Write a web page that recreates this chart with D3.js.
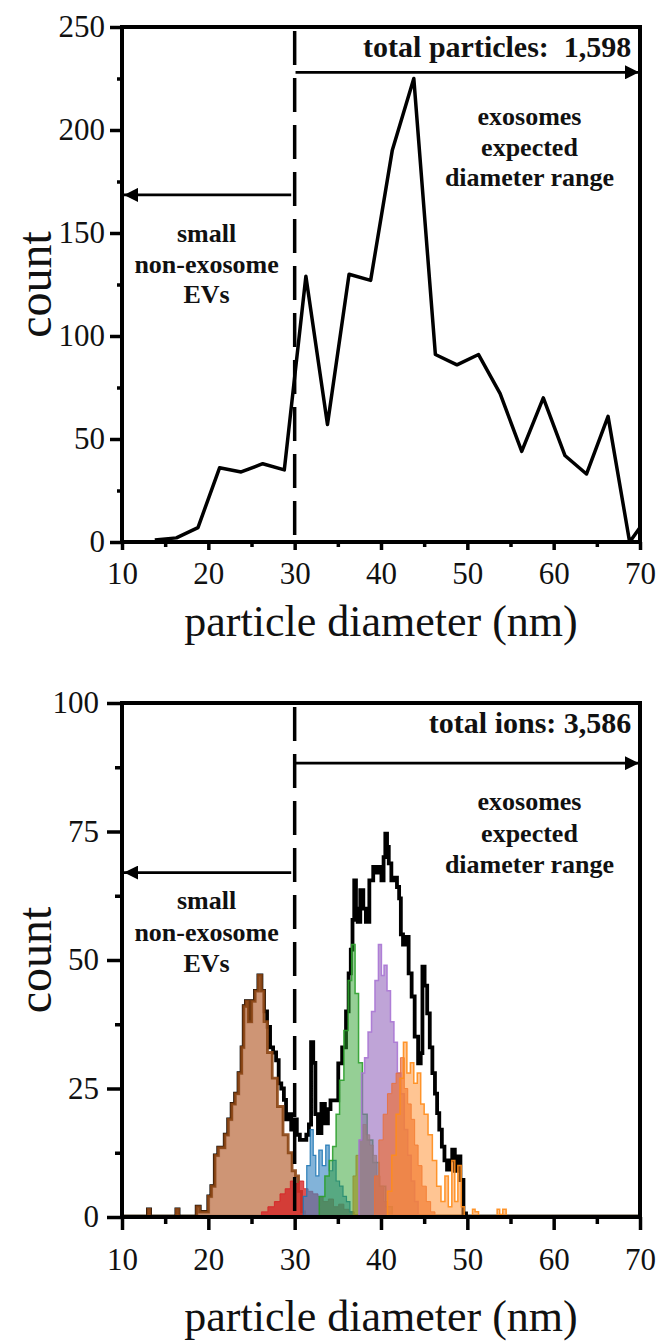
<!DOCTYPE html>
<html>
<head>
<meta charset="utf-8"/>
<title>particle diameter histograms</title>
<script src="https://d3js.org/d3.v7.min.js"></script>
<style>
body{margin:0;background:#fff;}
svg text{font-family:"Liberation Serif","Times New Roman",serif;fill:#111;}
.note{font-weight:bold;}
</style>
</head>
<body>
<div id="well"></div>
<script>
// ---- data ----
var xTicks = [10, 20, 30, 40, 50, 60, 70];
var xMinor = [15, 25, 35, 45, 55, 65];

// top panel: particle counts (nm, count)
var particleDiam = [13.8, 16.3, 18.8, 21.3, 23.8, 26.3, 28.8, 31.3, 33.8, 36.3, 38.8, 41.3, 43.8, 46.3, 48.8, 51.3, 53.8, 56.3, 58.8, 61.3, 63.8, 66.3, 68.8, 70];
var particleCount = [1, 2, 7, 36, 34, 38, 35, 129, 57, 130, 127, 190, 225, 91, 86, 91, 72, 44, 70, 42, 33, 61, 0, 7];
var topYTicks = [0, 50, 100, 150, 200, 250];
var topYMinor = [25, 75, 125, 175, 225];

// bottom panel: ion counts, total (black) and per-class histograms
var ionsTotal = [[10,0],[12.9,0],[13.1,1.5],[13.4,0],[16.2,0],[16.4,1.5],[16.7,0],[18.5,0],[18.8,2],[19.2,1],[19.8,1],[20.2,4],[20.5,6],[21.0,12],[21.3,13.5],[21.7,13.5],[22.1,16],[22.5,19],[22.9,22],[23.3,24],[23.7,28],[24.0,33],[24.2,41],[24.5,42],[24.8,38],[25.2,42],[25.6,44],[26.0,47],[26.3,44],[26.6,40],[27.0,37],[27.3,33],[27.7,32],[28.0,30.5],[28.3,26],[28.6,25],[28.9,22.8],[29.1,19],[29.4,20],[29.8,17],[30.1,19],[30.4,16],[30.8,15],[31.2,15],[31.5,16],[31.8,18],[32.0,34],[32.3,30],[32.5,20],[32.9,16.3],[33.3,22],[33.7,18.2],[34.0,21],[34.3,22.7],[34.9,22.7],[35.2,29.9],[35.8,33],[36.1,40],[36.4,47.4],[36.6,52],[36.8,57.8],[37.0,65.5],[37.2,60],[37.4,57.4],[37.8,63.6],[38.1,60],[38.4,57.4],[38.9,65.5],[39.3,68.1],[39.6,67],[39.9,68.1],[40.2,65.5],[40.4,70],[40.6,74.6],[40.8,72],[41.0,68.8],[41.4,65.5],[41.7,66],[42.0,64.2],[42.2,62],[42.4,55],[42.7,53],[43.0,54.5],[43.4,47.4],[43.7,42.9],[44.1,35.1],[44.5,29.9],[44.7,31.9],[44.9,48.7],[45.2,45],[45.5,39.6],[45.8,33],[46.1,28],[46.4,24],[46.6,20.2],[46.9,17],[47.2,13.7],[47.5,11],[47.8,9.2],[48.1,11],[48.4,13.1],[48.7,9],[49.0,11.8],[49.4,7.2],[49.7,0.7],[50.0,0],[70,0]];
var ionsBrown = [[12.9,0],[13.1,1.5],[13.4,0],[16.2,0],[16.4,1.5],[16.7,0],[18.5,0],[18.8,2],[19.2,1],[19.8,1],[20.2,4],[20.5,6],[21.0,12],[21.3,13.5],[21.7,13.5],[22.1,16],[22.5,19],[22.9,22],[23.3,24],[23.7,28],[24.0,33],[24.2,41],[24.5,42],[24.8,38],[25.2,42],[25.6,44],[26.0,47],[26.3,44],[26.6,38],[27.1,32],[27.7,27],[28.3,21.5],[29.0,16],[29.5,12.5],[29.9,9],[30.3,8],[30.6,5],[31.0,1],[31.3,0]];
var ionsRed = [[25.8,0],[26.5,1],[27.3,2],[28.0,3],[28.6,4.5],[29.2,5.5],[29.8,7],[30.3,6.5],[30.8,7],[31.3,5.5],[31.8,5],[32.4,4.5],[33.0,4],[33.6,3],[34.2,3.5],[34.8,2],[35.4,2.5],[36.0,1.5],[36.6,1],[37.2,0.5],[37.8,0]];
var ionsBlue = [[30.8,0],[31.2,4],[31.6,10],[32.0,17],[32.3,12],[32.6,8],[33.0,13],[33.4,10],[33.8,14],[34.2,9],[34.6,11],[35.0,7],[35.4,6],[35.8,4],[36.2,3],[36.6,1],[37.0,0]];
var ionsGreen = [[32.5,0],[33.2,4],[33.8,8],[34.2,11],[34.6,13.7],[35.0,20],[35.4,26.6],[36.0,36.3],[36.4,46],[36.8,53],[37.2,43.5],[37.6,30],[38.1,20],[38.7,15],[39.4,10.6],[40.2,6],[40.9,2],[41.7,0]];
var ionsOlive = [[36.6,0],[36.9,8],[37.3,12],[37.7,15],[38.1,18],[38.5,16],[38.9,14],[39.3,12],[39.7,8],[40.1,6],[40.5,3],[41.0,1],[41.5,0]];
var ionsPurple = [[37.3,0],[37.6,15],[37.9,28],[38.3,31],[38.7,36],[39.1,40],[39.5,46],[39.9,53],[40.2,47],[40.5,49],[40.9,44],[41.3,38],[41.7,34],[42.1,28],[42.5,24],[42.9,17],[43.3,12],[43.7,7],[44.1,3],[44.5,0]];
var ionsCoral = [[39.0,0],[39.5,8],[40.0,15],[40.5,20],[41.0,24],[41.5,26],[42.0,28],[42.5,31],[42.9,25],[43.3,22],[43.7,19],[44.1,14],[44.5,10],[45.0,6],[45.5,3],[46.0,1],[46.5,0]];
var ionsOrange = [[40.5,0],[41.0,5],[41.5,12],[42.0,20],[42.4,27],[42.8,34],[43.2,28],[43.6,30],[44.0,26],[44.4,28],[44.8,22],[45.2,20],[45.7,16],[46.2,11],[46.7,6],[47.2,3],[47.6,8],[48.0,2],[48.4,11],[48.7,3],[49.1,10],[49.5,2],[49.8,0],[50.5,0],[50.7,1.5],[51.1,1],[51.5,0],[53.3,0],[53.6,1.5],[53.9,0.5],[54.3,1.5],[54.7,0]];
var botYTicks = [0, 25, 50, 75, 100];
var botYMinor = [12.5, 37.5, 62.5, 87.5];

var topLabel = 'total particles:\u00a0 1,598';
var botLabel = 'total ions: 3,586';
var rangeLabel = ['exosomes', 'expected', 'diameter range'];
var smallLabel = ['small', 'non-exosome', 'EVs'];

// ---- drawing ----
var svg = d3.select('#well').append('svg').attr('width', 658).attr('height', 1343);

var defs = svg.append('defs');
defs.append('marker').attr('id', 'head')
	.attr('viewBox', '0 0 10 10').attr('refX', 10).attr('refY', 5)
	.attr('markerUnits', 'userSpaceOnUse')
	.attr('markerWidth', 18).attr('markerHeight', 14)
	.attr('orient', 'auto')
	.append('path').attr('d', 'M0,0L10,5L0,10z').attr('fill', '#000');

function panel(p){
	var x = d3.scaleLinear().domain([10, 70]).range([122, 640]);
	var y = d3.scaleLinear().domain([0, p.yMax]).range([p.bottom, p.top]);
	var g = svg.append('g');

	defs.append('clipPath').attr('id', p.id + 'clip')
		.append('rect').attr('x', x(10)).attr('y', y(p.yMax)).attr('width', x(70) - x(10)).attr('height', y(0) - y(p.yMax));

	// minor ticks
	g.append('g').attr('transform', 'translate(0,' + y(0) + ')')
		.call(d3.axisBottom(x).tickValues(xMinor).tickSize(p.xMinorLen).tickFormat(''));
	g.append('g').attr('transform', 'translate(' + x(10) + ',0)')
		.call(d3.axisLeft(y).tickValues(p.yMinor).tickSize(p.yMinorLen).tickFormat(''));
	// major ticks
	g.append('g').attr('transform', 'translate(0,' + y(0) + ')')
		.call(d3.axisBottom(x).tickValues(xTicks).tickSize(p.xTickLen).tickPadding(p.xPad));
	g.append('g').attr('transform', 'translate(' + x(10) + ',0)')
		.call(d3.axisLeft(y).tickValues(p.yTicks).tickSize(p.yTickLen).tickPadding(p.yPad));
	g.selectAll('.domain').remove();
	g.selectAll('.tick line').attr('stroke', '#000').attr('stroke-width', 3.5);
	g.selectAll('.tick text').attr('font-size', 31).attr('fill', '#111')
		.style('font-family', '"Liberation Serif","Times New Roman",serif');

	var plot = g.append('g').attr('clip-path', 'url(#' + p.id + 'clip)');
	p.draw(plot, x, y);

	// frame
	g.append('rect').attr('x', x(10)).attr('y', y(p.yMax))
		.attr('width', x(70) - x(10)).attr('height', y(0) - y(p.yMax))
		.attr('fill', 'none').attr('stroke', '#000').attr('stroke-width', 4);

	// cut line at 30 nm
	g.append('line').attr('x1', x(30)).attr('x2', x(30)).attr('y1', y(p.yMax) + 4).attr('y2', y(0))
		.attr('stroke', '#000').attr('stroke-width', 3.5).attr('stroke-dasharray', '34,13');

	// arrows
	g.append('line').attr('x1', x(30.1)).attr('x2', x(70) - 1).attr('y1', y(p.arrowR)).attr('y2', y(p.arrowR))
		.attr('stroke', '#000').attr('stroke-width', 2.8).attr('marker-end', 'url(#head)');
	g.append('line').attr('x1', x(29.6)).attr('x2', x(10) + 2).attr('y1', y(p.arrowL)).attr('y2', y(p.arrowL))
		.attr('stroke', '#000').attr('stroke-width', 2.8).attr('marker-end', 'url(#head)');

	// notes
	g.append('text').attr('class', 'note').attr('x', x(69)).attr('y', p.top + p.totalDy)
		.attr('text-anchor', 'end').attr('font-size', 30).text(p.total);
	rangeLabel.forEach(function(t, i){
		g.append('text').attr('class', 'note').attr('x', x(57.2)).attr('y', p.top + p.rangeDy + i * p.lead)
			.attr('text-anchor', 'middle').attr('font-size', 26).text(t);
	});
	smallLabel.forEach(function(t, i){
		g.append('text').attr('class', 'note').attr('x', x(19.8)).attr('y', p.top + p.smallDy + i * p.lead)
			.attr('text-anchor', 'middle').attr('font-size', 26).text(t);
	});

	// axis titles
	g.append('text').attr('x', (x(10) + x(70)) / 2).attr('y', y(0) + p.titleDy)
		.attr('text-anchor', 'middle').attr('font-size', 44).text('particle diameter (nm)');
	g.append('text').attr('transform', 'translate(51,' + (y(0) + y(p.yMax)) / 2 + ') rotate(-90)')
		.attr('text-anchor', 'middle').attr('font-size', 48).text('count');
}

panel({
	id: 'top', top: 27, bottom: 542, yMax: 250,
	yTicks: topYTicks, yMinor: topYMinor,
	xTickLen: 8, xMinorLen: 5, xPad: 12, yTickLen: 12, yMinorLen: 5, yPad: 5,
	arrowR: 228, arrowL: 168.5,
	total: topLabel, totalDy: 30, rangeDy: 98, smallDy: 215, lead: 30.5, titleDy: 94,
	draw: function(plot, x, y){
		var pts = particleDiam.map(function(d, i){ return [d, particleCount[i]]; });
		plot.append('path').datum(pts)
			.attr('d', d3.line().x(function(d){ return x(d[0]); }).y(function(d){ return y(d[1]); }))
			.attr('fill', 'none').attr('stroke', '#000').attr('stroke-width', 3.5).attr('stroke-linejoin', 'round');
	}
});

panel({
	id: 'bot', top: 703, bottom: 1217, yMax: 100,
	yTicks: botYTicks, yMinor: botYMinor,
	xTickLen: 13, xMinorLen: 7, xPad: 18, yTickLen: 15, yMinorLen: 7, yPad: 8,
	arrowR: 88.3, arrowL: 67,
	total: botLabel, totalDy: 30, rangeDy: 107, smallDy: 206, lead: 31.5, titleDy: 114,
	draw: function(plot, x, y){
		var line = d3.line().curve(d3.curveStep).x(function(d){ return x(d[0]); }).y(function(d){ return y(d[1]); });
		var area = d3.area().curve(d3.curveStep).x(function(d){ return x(d[0]); })
			.y0(y(0)).y1(function(d){ return y(d[1]); });
		plot.append('line').attr('x1', x(10)).attr('x2', x(70)).attr('y1', y(0) - 2).attr('y2', y(0) - 2)
			.attr('stroke', '#8a8070').attr('stroke-width', 1.5);
		plot.append('path').datum(ionsTotal).attr('d', line)
			.attr('fill', 'none').attr('stroke', '#000').attr('stroke-width', 3.8);
		var series = [
			[ionsBrown, '#c98a66', 0.9, '#8b4513', 2.8],
			[ionsRed, '#d62728', 0.8, '#d62728', 1],
			[ionsBlue, '#3f8bc4', 0.65, '#1f77b4', 1.2],
			[ionsGreen, '#2ca02c', 0.5, '#2ca02c', 1.5],
			[ionsOlive, '#9a9a30', 0.75, '#8c8c2c', 0.8],
			[ionsPurple, '#9467bd', 0.6, '#a974d4', 1.5],
			[ionsCoral, '#e8703e', 0.7, '#e8703e', 1],
			[ionsOrange, '#ff8c28', 0.5, '#ff8c1a', 1.5]
		];
		series.forEach(function(s){
			plot.append('path').datum(s[0]).attr('d', area)
				.attr('fill', s[1]).attr('fill-opacity', s[2])
				.attr('stroke', s[3]).attr('stroke-width', s[4]).attr('stroke-opacity', 0.9);
		});
	}
});
</script>
</body>
</html>
